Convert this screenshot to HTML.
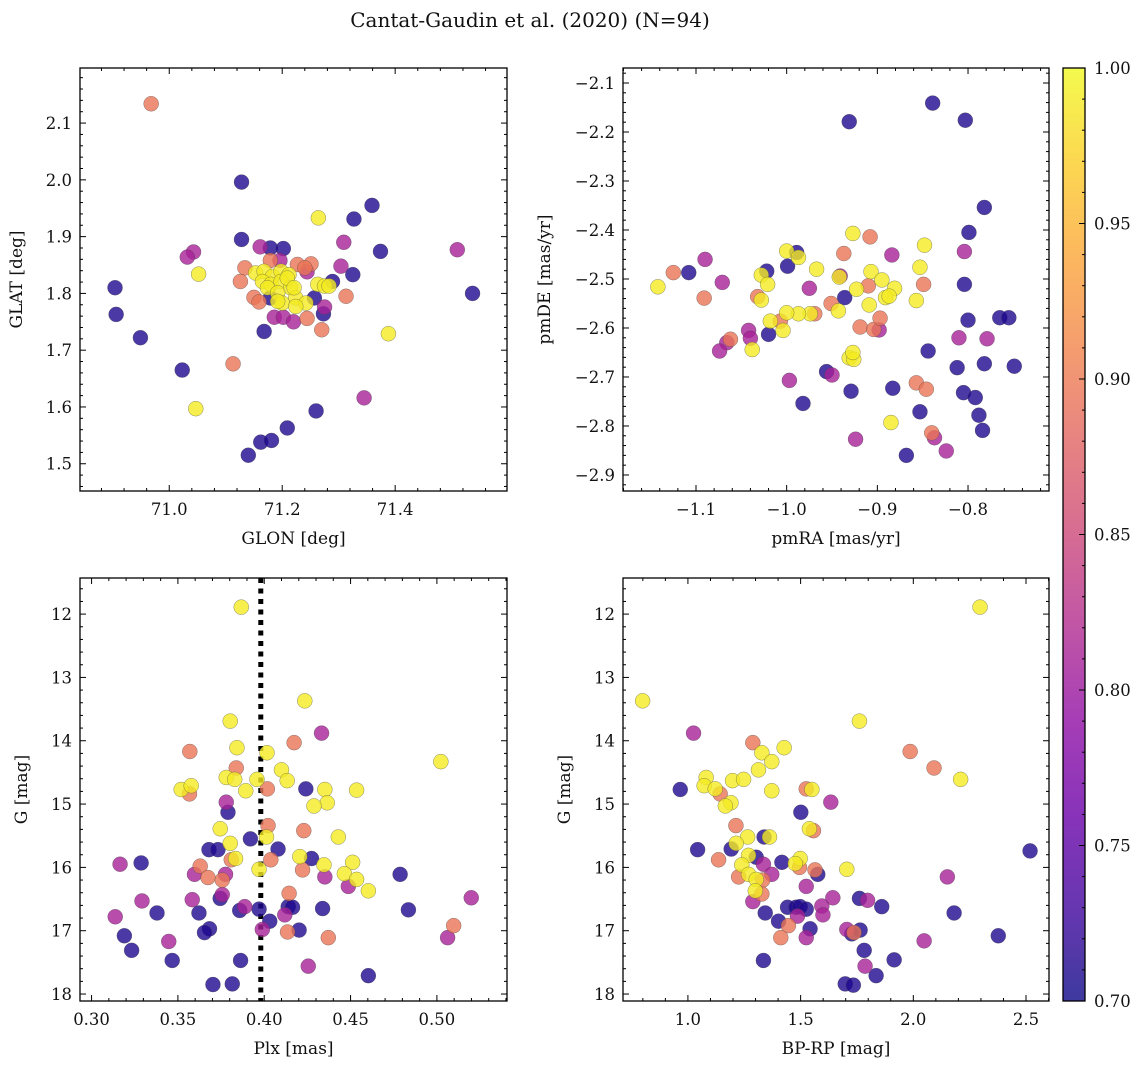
<!DOCTYPE html>
<html><head><meta charset="utf-8"><style>
body{margin:0;background:#fff}
svg{display:block;font-family:"DejaVu Serif","Liberation Serif",serif}
</style></head><body>
<svg id="fig" width="1148" height="1068" viewBox="0 0 1148 1068">
<text x="530" y="27" font-size="20" text-anchor="middle" fill="#111">Cantat-Gaudin et al. (2020) (N=94)</text>
</svg>
<script>
// ---- Panel 1: GLON vs GLAT ----
const p1x=[70.968,71.128,71.359,71.327,71.264,71.128,71.161,71.179,71.202,71.309,71.374,71.510,71.043,71.032,71.052,70.904,70.906,70.949,71.023,71.113,71.047,71.168,71.134,71.126,71.179,71.196,71.227,71.251,71.240,71.304,71.325,71.289,71.244,71.313,71.537,71.150,71.159,71.179,71.257,71.275,71.273,71.186,71.202,71.220,71.244,71.270,71.388,71.345,71.260,71.209,71.162,71.181,71.140,71.153,71.168,71.183,71.198,71.212,71.165,71.180,71.198,71.215,71.174,71.192,71.224,71.200,71.242,71.224,71.263,71.275,71.283,71.192,71.209,71.221];
const p1y=[2.134,1.996,1.955,1.931,1.933,1.895,1.882,1.880,1.879,1.890,1.874,1.877,1.873,1.864,1.834,1.810,1.763,1.722,1.665,1.676,1.597,1.733,1.845,1.821,1.858,1.858,1.851,1.852,1.845,1.848,1.833,1.821,1.838,1.795,1.800,1.793,1.785,1.792,1.792,1.776,1.764,1.758,1.758,1.750,1.756,1.736,1.729,1.616,1.593,1.563,1.538,1.541,1.515,1.836,1.839,1.830,1.839,1.833,1.821,1.816,1.821,1.810,1.810,1.801,1.792,1.783,1.783,1.777,1.816,1.813,1.813,1.786,1.827,1.810];
const p1c=[0.895,0.71,0.71,0.71,0.99,0.71,0.81,0.71,0.71,0.81,0.71,0.81,0.81,0.81,0.99,0.71,0.71,0.71,0.71,0.895,0.99,0.71,0.895,0.895,0.895,0.81,0.895,0.895,0.895,0.81,0.71,0.71,0.81,0.895,0.71,0.895,0.895,0.71,0.71,0.81,0.71,0.81,0.81,0.81,0.895,0.895,0.99,0.81,0.71,0.71,0.71,0.71,0.71,0.99,0.99,0.99,0.99,0.99,0.99,0.99,0.99,0.99,0.99,0.99,0.99,0.99,0.99,0.99,0.99,0.99,0.99,0.99,0.99,0.99];
// ---- Panel 2: pmRA vs pmDE ----
const p2x=[-0.931,-0.839,-0.803,-0.782,-0.799,-0.804,-0.804,-0.800,-0.765,-0.755,-0.810,-0.779,-0.844,-0.812,-0.782,-0.749,-0.857,-0.846,-0.805,-0.792,-0.788,-0.784,-0.853,-0.840,-0.837,-0.824,-0.868,-0.883,-0.885,-0.924,-0.929,-0.982,-0.997,-0.956,-0.950,-0.931,-0.926,-0.927,-0.927,-0.908,-0.848,-0.853,-0.849,-0.857,-0.884,-0.937,-1.000,-0.989,-0.987,-0.999,-0.967,-1.022,-1.028,-1.021,-1.028,-1.032,-0.941,-0.942,-0.907,-0.895,-0.910,-0.923,-0.881,-0.891,-0.887,-0.909,-0.936,-0.975,-0.951,-0.943,-0.969,-0.974,-0.987,-1.000,-1.007,-1.018,-1.004,-1.020,-0.919,-0.904,-0.898,-0.897,-1.038,-1.042,-1.040,-1.062,-1.066,-1.074,-1.071,-1.090,-1.108,-1.125,-1.091,-1.142];
const p2y=[-2.179,-2.141,-2.176,-2.354,-2.405,-2.444,-2.511,-2.584,-2.579,-2.579,-2.620,-2.622,-2.647,-2.681,-2.673,-2.678,-2.712,-2.725,-2.732,-2.742,-2.778,-2.809,-2.771,-2.814,-2.824,-2.851,-2.860,-2.723,-2.793,-2.827,-2.729,-2.754,-2.707,-2.689,-2.696,-2.661,-2.664,-2.650,-2.407,-2.414,-2.431,-2.476,-2.511,-2.544,-2.451,-2.448,-2.443,-2.446,-2.456,-2.474,-2.480,-2.484,-2.492,-2.511,-2.543,-2.536,-2.494,-2.496,-2.485,-2.502,-2.514,-2.521,-2.519,-2.538,-2.535,-2.553,-2.538,-2.519,-2.550,-2.565,-2.571,-2.571,-2.571,-2.569,-2.586,-2.586,-2.605,-2.613,-2.598,-2.603,-2.604,-2.580,-2.644,-2.605,-2.621,-2.623,-2.630,-2.647,-2.507,-2.460,-2.487,-2.487,-2.539,-2.516];
const p2c=[0.71,0.71,0.71,0.71,0.71,0.81,0.71,0.71,0.71,0.71,0.81,0.81,0.71,0.71,0.71,0.71,0.895,0.895,0.71,0.71,0.71,0.71,0.71,0.895,0.81,0.81,0.71,0.71,0.99,0.81,0.71,0.71,0.81,0.71,0.81,0.99,0.99,0.99,0.99,0.895,0.99,0.99,0.895,0.99,0.81,0.895,0.99,0.71,0.99,0.71,0.99,0.71,0.99,0.99,0.99,0.895,0.81,0.99,0.99,0.99,0.895,0.99,0.99,0.99,0.99,0.99,0.71,0.81,0.895,0.99,0.895,0.99,0.99,0.99,0.895,0.99,0.99,0.71,0.895,0.895,0.81,0.895,0.99,0.81,0.81,0.895,0.81,0.81,0.81,0.81,0.71,0.895,0.895,0.99];
// ---- Panel 3: Plx vs G ----
const p3x=[0.3867,0.4235,0.3803,0.4332,0.4173,0.3569,0.3842,0.4016,0.5023,0.3838,0.4100,0.4133,0.3780,0.3829,0.3958,0.3519,0.3577,0.3567,0.3893,0.4018,0.4241,0.4351,0.4535,0.4365,0.4288,0.3780,0.3790,0.3745,0.4022,0.4229,0.4429,0.4013,0.3920,0.3803,0.4080,0.3680,0.3732,0.4206,0.4274,0.3834,0.3809,0.4038,0.3970,0.4346,0.4512,0.3165,0.3287,0.3629,0.4222,0.4464,0.4787,0.3596,0.3776,0.3674,0.3757,0.4351,0.4535,0.4487,0.4603,0.4144,0.3757,0.3745,0.3583,0.3292,0.5199,0.3858,0.3887,0.3970,0.4139,0.4164,0.4338,0.4835,0.3622,0.3379,0.3137,0.4119,0.4032,0.3683,0.3654,0.3989,0.4202,0.4135,0.4371,0.5097,0.5062,0.3190,0.3447,0.3232,0.3467,0.3863,0.4255,0.4603,0.3703,0.3815];
const p3y=[11.89,13.37,13.69,13.88,14.03,14.17,14.11,14.19,14.33,14.43,14.46,14.63,14.58,14.61,14.61,14.77,14.71,14.84,14.79,14.76,14.76,14.77,14.78,14.98,15.03,14.97,15.13,15.39,15.34,15.42,15.52,15.52,15.55,15.62,15.71,15.72,15.72,15.83,15.86,15.86,15.88,15.88,16.03,15.96,15.92,15.95,15.93,15.98,16.04,16.10,16.11,16.11,16.11,16.16,16.20,16.15,16.19,16.30,16.37,16.41,16.43,16.49,16.51,16.53,16.48,16.68,16.62,16.66,16.62,16.63,16.65,16.67,16.72,16.72,16.78,16.75,16.85,16.97,17.03,16.98,16.99,17.02,17.11,16.92,17.11,17.08,17.17,17.31,17.47,17.47,17.56,17.71,17.85,17.84];
const p3c=[0.99,0.99,0.99,0.81,0.895,0.895,0.99,0.99,0.99,0.895,0.99,0.99,0.99,0.99,0.99,0.99,0.99,0.895,0.99,0.895,0.71,0.99,0.99,0.99,0.99,0.81,0.71,0.99,0.895,0.895,0.99,0.99,0.71,0.99,0.71,0.71,0.71,0.99,0.71,0.99,0.895,0.895,0.99,0.99,0.99,0.81,0.71,0.895,0.895,0.99,0.71,0.81,0.81,0.895,0.895,0.81,0.99,0.81,0.99,0.895,0.81,0.71,0.81,0.81,0.81,0.71,0.81,0.71,0.71,0.71,0.71,0.71,0.71,0.71,0.81,0.81,0.71,0.71,0.71,0.81,0.71,0.895,0.895,0.895,0.81,0.71,0.81,0.71,0.71,0.71,0.81,0.71,0.71,0.71];
// ---- Panel 4: BP-RP vs G ----
const p4x=[2.296,0.799,1.761,1.025,1.288,1.986,1.427,1.328,2.092,1.372,1.313,2.210,1.081,1.072,1.198,1.247,1.121,1.143,0.966,1.372,1.525,1.550,1.634,1.191,1.166,1.501,1.043,1.213,1.557,1.539,1.338,1.362,1.265,1.214,1.192,1.136,1.303,1.269,1.417,1.498,1.476,1.239,1.335,1.495,1.705,1.564,1.576,2.151,1.372,1.269,1.225,1.303,1.332,1.525,1.328,1.299,1.288,1.643,1.761,1.797,1.860,1.442,1.480,1.498,1.525,1.486,1.594,1.599,1.343,2.181,1.402,1.446,1.542,1.705,1.764,1.737,1.727,1.412,1.525,2.048,2.377,2.518,1.782,1.335,1.915,1.786,1.835,1.698,1.734];
const p4y=[11.89,13.37,13.69,13.88,14.03,14.17,14.11,14.19,14.43,14.33,14.46,14.61,14.58,14.71,14.63,14.61,14.76,14.84,14.77,14.79,14.76,14.77,14.97,14.98,15.03,15.13,15.72,15.34,15.42,15.39,15.52,15.52,15.52,15.62,15.71,15.88,15.84,15.81,15.92,15.86,15.94,15.96,15.95,16.00,16.03,16.04,16.11,16.15,16.11,16.11,16.15,16.19,16.20,16.30,16.42,16.37,16.54,16.48,16.49,16.52,16.62,16.63,16.63,16.62,16.66,16.77,16.61,16.75,16.72,16.72,16.85,16.92,16.97,16.98,16.99,17.03,17.05,17.11,17.11,17.16,17.08,15.74,17.31,17.47,17.46,17.56,17.71,17.84,17.86];
const p4c=[0.99,0.99,0.99,0.81,0.895,0.895,0.99,0.99,0.895,0.99,0.99,0.99,0.99,0.99,0.99,0.99,0.99,0.895,0.71,0.99,0.895,0.99,0.81,0.99,0.99,0.71,0.71,0.895,0.895,0.99,0.71,0.99,0.99,0.99,0.71,0.895,0.71,0.99,0.71,0.99,0.99,0.99,0.81,0.895,0.99,0.895,0.71,0.81,0.81,0.99,0.895,0.99,0.895,0.81,0.895,0.99,0.81,0.81,0.71,0.81,0.71,0.71,0.71,0.71,0.71,0.81,0.81,0.81,0.71,0.71,0.71,0.895,0.71,0.81,0.71,0.895,0.71,0.895,0.81,0.81,0.71,0.71,0.71,0.71,0.71,0.81,0.71,0.71,0.71];
const cbTicks=[0.70,0.75,0.80,0.85,0.90,0.95,1.00];

const NS="http://www.w3.org/2000/svg";
const svg=document.getElementById('fig');
function mk(tag,attrs,parent){const e=document.createElementNS(NS,tag);for(const k in attrs)e.setAttribute(k,attrs[k]);(parent||svg).appendChild(e);return e;}
const stops=["#0d0887","#41049d","#6a00a8","#8f0da4","#b12a90","#cc4778","#e16462","#f2844b","#fca636","#fcce25","#f0f921"];
function hex(h){return [1,3,5].map(i=>parseInt(h.substr(i,2),16));}
function plasma(t){t=Math.max(0,Math.min(1,t));const f=t*10,i=Math.min(9,Math.floor(f)),r=f-i;const a=hex(stops[i]),b=hex(stops[i+1]);return 'rgb('+a.map((v,k)=>Math.round(v+(b[k]-v)*r)).join(',')+')';}
function cmap(p){return plasma((p-0.7)/0.3);}
function fmt(v,d){return (v<0?'\u2212':'')+Math.abs(v).toFixed(d);}
const TFS=16.5, LFS=17;

function panel(o){
  const {name,x0,y0,x1,y1,xmin,xmax,ymin,ymax,inv}=o;
  const X=v=>x0+(v-xmin)/(xmax-xmin)*(x1-x0);
  const Y=inv?(v=>y0+(v-ymin)/(ymax-ymin)*(y1-y0)):(v=>y1-(v-ymin)/(ymax-ymin)*(y1-y0));
  const g=mk('g',{});
  
  
  const clipId='c'+name;const cp=mk('clipPath',{id:clipId},g);mk('rect',{x:x0,y:y0,width:x1-x0,height:y1-y0},cp);
  const pg=mk('g',{'clip-path':'url(#'+clipId+')'},g);
  if(o.vline!==undefined){const l=mk('line',{x1:X(o.vline),x2:X(o.vline),y1:y0,y2:y1,stroke:'#000','stroke-width':5,'stroke-dasharray':'5 5.5'},pg);
    }
  const idx=o.xs.map((_,i)=>i).sort((a,b)=>o.cs[a]-o.cs[b]);
  idx.forEach(i=>{const c=mk('circle',{cx:X(o.xs[i]),cy:Y(o.ys[i]),r:7.5,fill:cmap(o.cs[i]),'fill-opacity':0.8,stroke:'#444','stroke-opacity':0.6,'stroke-width':0.5},pg);
    });
  mk('rect',{x:x0,y:y0,width:x1-x0,height:y1-y0,fill:'none',stroke:'#000','stroke-width':1.3},g);
  const eps=1e-9;
  for(let v=Math.ceil(xmin/o.xminor-eps)*o.xminor;v<=xmax+eps;v+=o.xminor){const px=X(v);
    const major=Math.abs(v/o.xmajor-Math.round(v/o.xmajor))<1e-6;const L=major?6:3;
    mk('line',{x1:px,x2:px,y1:y1,y2:y1-L,stroke:'#000','stroke-width':1},g);mk('line',{x1:px,x2:px,y1:y0,y2:y0+L,stroke:'#000','stroke-width':1},g);
    if(major){const t=mk('text',{x:px,y:y1+24,'font-size':TFS,'text-anchor':'middle',fill:'#111'},g);t.textContent=fmt(Math.round(v/o.xmajor)*o.xmajor,o.xd);
      }}
  for(let v=Math.ceil(ymin/o.yminor-eps)*o.yminor;v<=ymax+eps;v+=o.yminor){const py=Y(v);
    const major=Math.abs(v/o.ymajor-Math.round(v/o.ymajor))<1e-6;const L=major?6:3;
    mk('line',{x1:x0,x2:x0+L,y1:py,y2:py,stroke:'#000','stroke-width':1},g);mk('line',{x1:x1,x2:x1-L,y1:py,y2:py,stroke:'#000','stroke-width':1},g);
    if(major){const t=mk('text',{x:x0-8,y:py+6,'font-size':TFS,'text-anchor':'end',fill:'#111'},g);t.textContent=fmt(Math.round(v/o.ymajor)*o.ymajor,o.yd);
      }}
  const xt=mk('text',{x:(x0+x1)/2,y:y1+53,'font-size':LFS,'text-anchor':'middle',fill:'#111'},g);xt.textContent=o.xl;
  
  const yt=mk('text',{x:o.ylx,y:(y0+y1)/2,'font-size':LFS,'text-anchor':'middle',fill:'#111',transform:'rotate(-90 '+o.ylx+' '+((y0+y1)/2)+')'},g);yt.textContent=o.yl;
  
}
panel({name:'glon-glat-panel',x0:80,y0:68,x1:507,y1:491,xmin:70.842,xmax:71.598,ymin:1.452,ymax:2.197,xmajor:0.2,xminor:0.04,ymajor:0.1,yminor:0.02,xd:1,yd:1,xs:p1x,ys:p1y,cs:p1c,xl:'GLON [deg]',yl:'GLAT [deg]',ylx:22});
panel({name:'proper-motion-panel',x0:623,y0:68,x1:1049,y1:491,xmin:-1.1805,xmax:-0.7107,ymin:-2.9327,ymax:-2.0694,xmajor:0.1,xminor:0.02,ymajor:0.1,yminor:0.02,xd:1,yd:1,xs:p2x,ys:p2y,cs:p2c,xl:'pmRA [mas/yr]',yl:'pmDE [mas/yr]',ylx:550});
panel({name:'parallax-mag-panel',x0:80,y0:578,x1:507,y1:1001,xmin:0.2933,xmax:0.5406,ymin:11.43,ymax:18.11,inv:true,xmajor:0.05,xminor:0.01,ymajor:1,yminor:0.2,xd:2,yd:0,xs:p3x,ys:p3y,cs:p3c,xl:'Plx [mas]',yl:'G [mag]',ylx:27,vline:0.398});
panel({name:'cmd-panel',x0:623,y0:578,x1:1049,y1:1001,xmin:0.712,xmax:2.602,ymin:11.43,ymax:18.11,inv:true,xmajor:0.5,xminor:0.1,ymajor:1,yminor:0.2,xd:1,yd:0,xs:p4x,ys:p4y,cs:p4c,xl:'BP-RP [mag]',yl:'G [mag]',ylx:570});

const cb=mk('g',{});


const gr=mk('linearGradient',{id:'pl',x1:0,y1:1,x2:0,y2:0},cb);
stops.forEach((s,i)=>mk('stop',{offset:i/10,'stop-color':s,'stop-opacity':0.8},gr));
const cx0=1063,cx1=1085,cy0=68,cy1=1001;
mk('rect',{x:cx0,y:cy0,width:cx1-cx0,height:cy1-cy0,fill:'url(#pl)',stroke:'#000','stroke-width':1.3},cb);
const CY=v=>cy1-(v-0.7)/0.3*(cy1-cy0);
for(let k=70;k<=100;k++){const v=k/100,py=CY(v),major=k%5===0;mk('line',{x1:cx1,x2:cx1-(major?6:3),y1:py,y2:py,stroke:'#000','stroke-width':1},cb);}
cbTicks.forEach(v=>{const t=mk('text',{x:1094,y:CY(v)+6,'font-size':TFS,fill:'#111'},cb);t.textContent=v.toFixed(2);
  });
</script>
</body></html>
